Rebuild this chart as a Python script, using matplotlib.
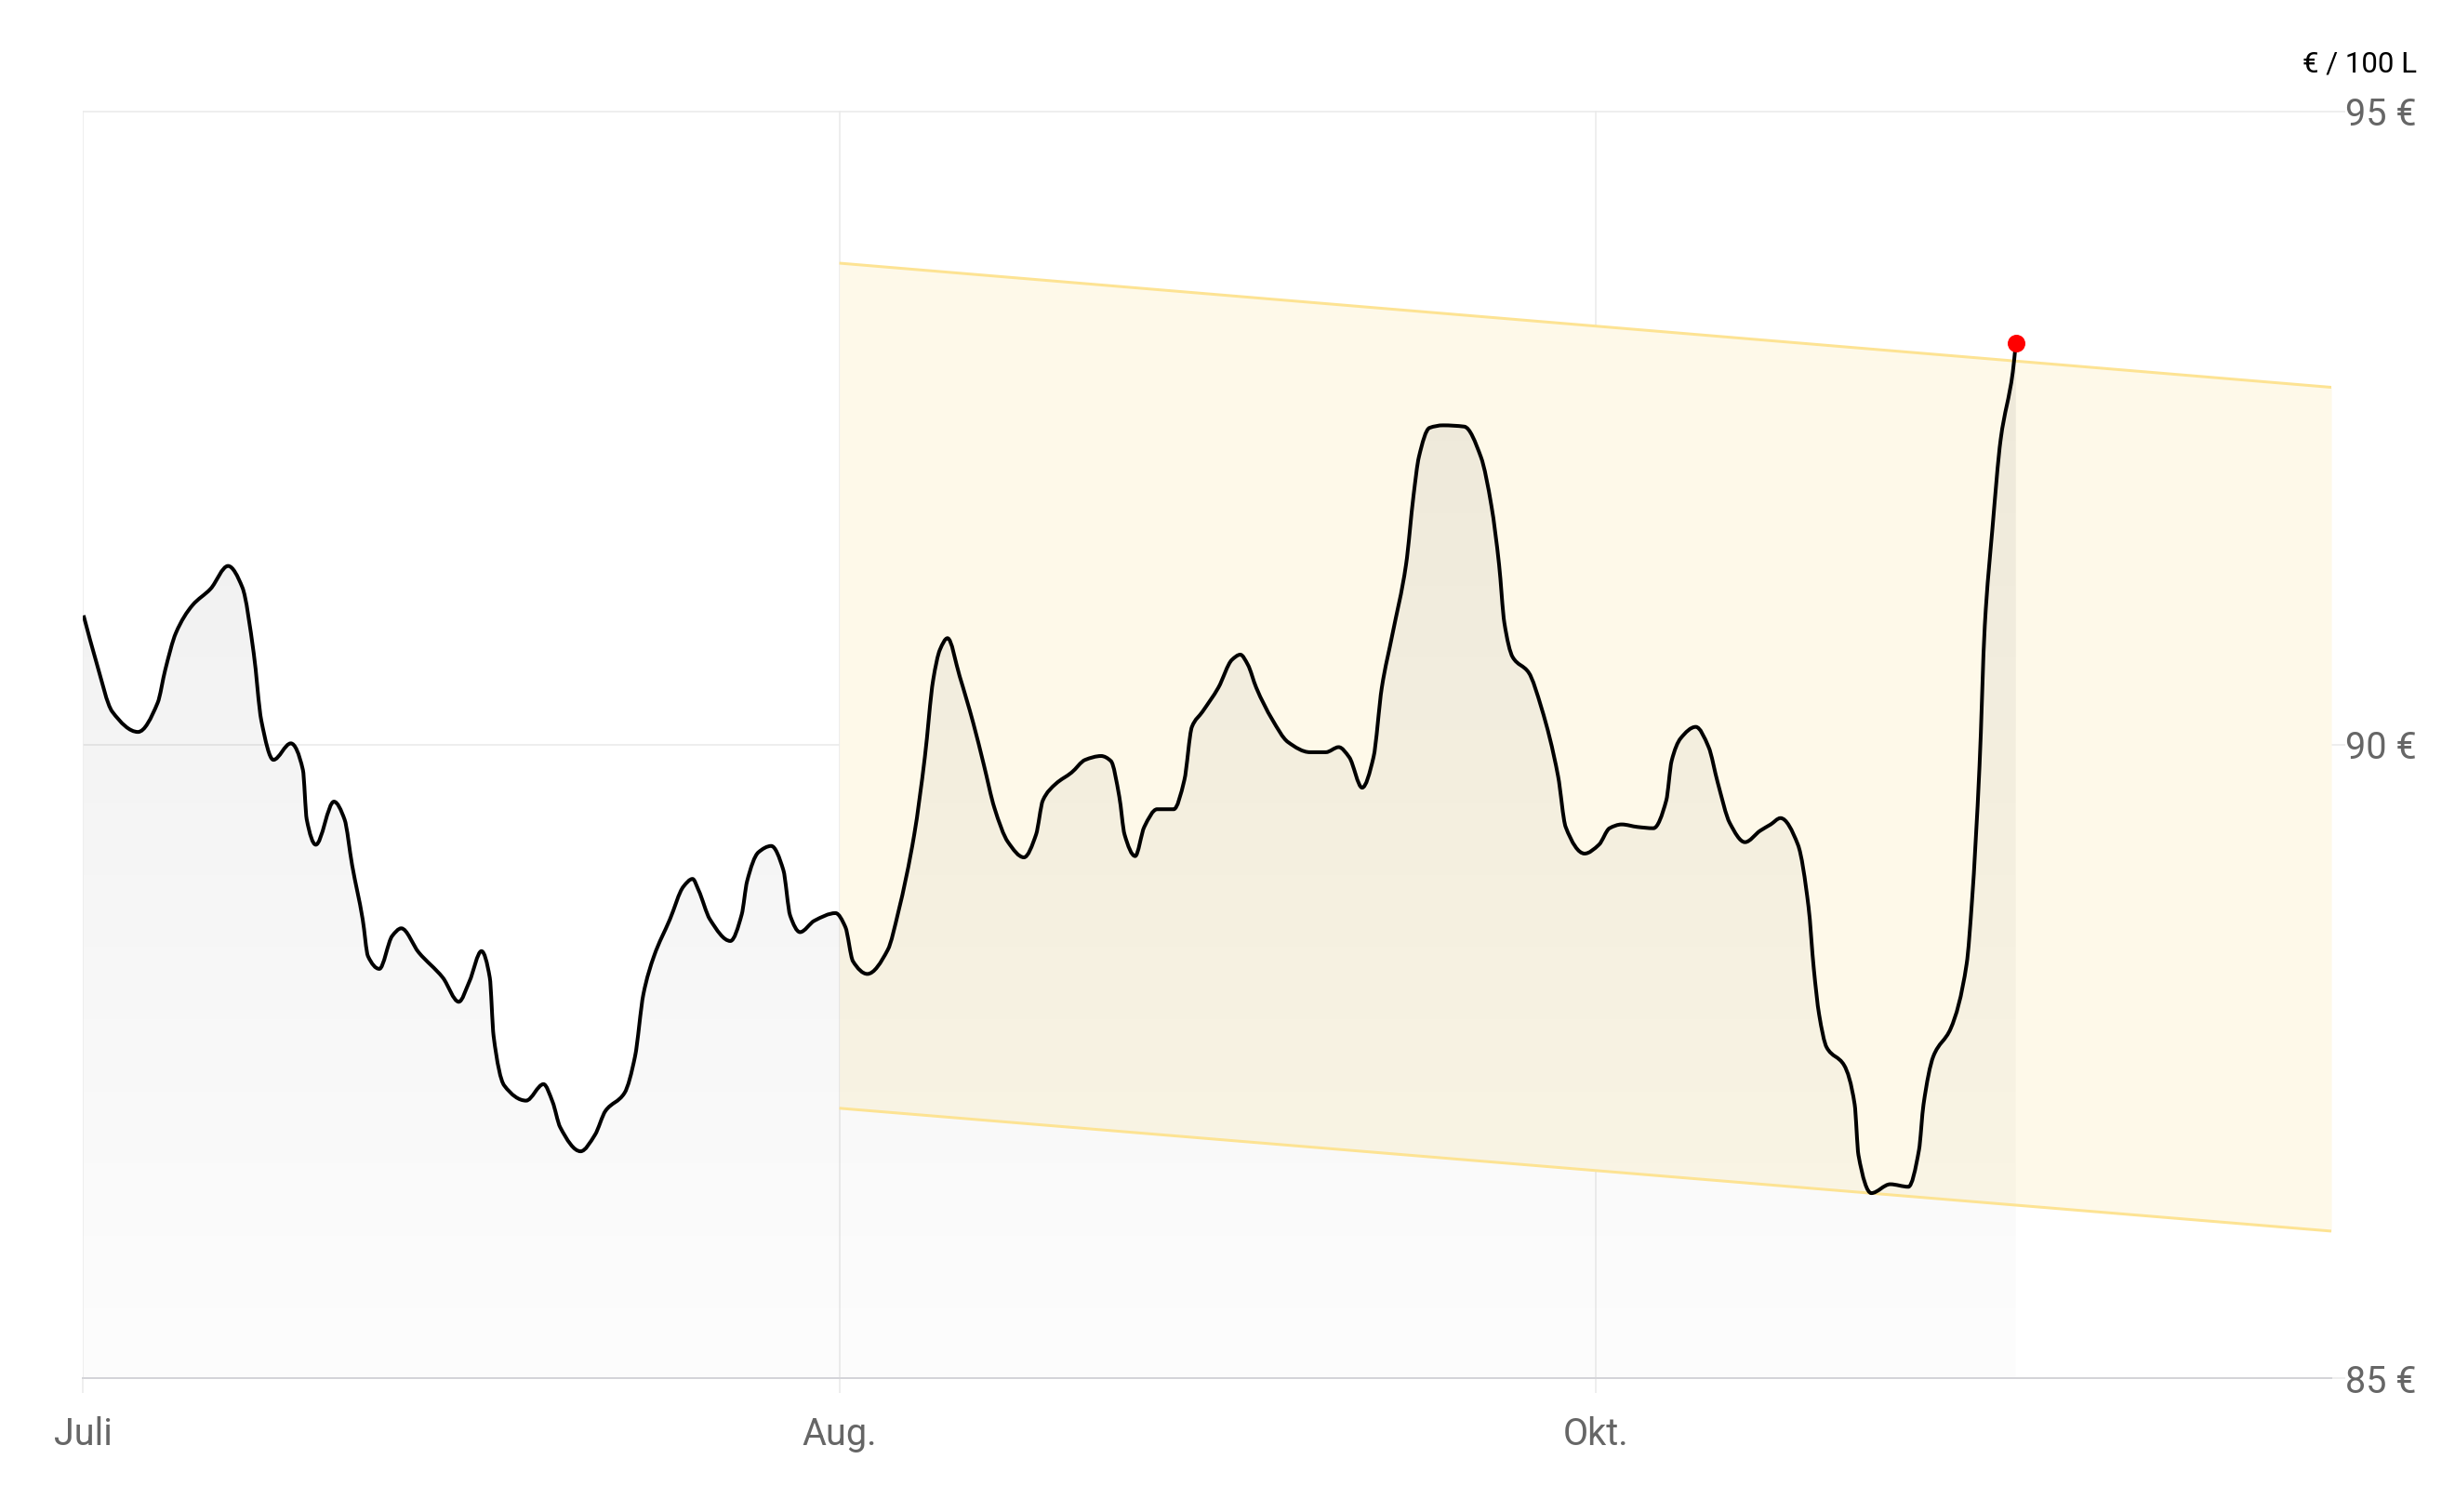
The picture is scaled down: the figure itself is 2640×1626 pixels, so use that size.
import numpy as np
import matplotlib
matplotlib.use("Agg")
import matplotlib.pyplot as plt
from matplotlib.path import Path
from matplotlib.patches import PathPatch

plt.rcParams['font.family'] = ['Roboto', 'DejaVu Sans']

# ---- data ----
tick_pos = [0, 1, 2]
tick_labels = ["Juli", "Aug.", "Okt."]
y_ticks = [85, 90, 95]
y_tick_labels = ["85 €", "90 €", "95 €"]
unit_label = "€ / 100 L"

x_pos = [0.001, 0.018, 0.039, 0.073, 0.099, 0.109, 0.123, 0.145, 0.169, 0.192,
         0.211, 0.226, 0.236, 0.252, 0.275, 0.291, 0.296, 0.308, 0.332, 0.346,
         0.356, 0.370, 0.377, 0.392, 0.409, 0.421, 0.444, 0.476, 0.497, 0.511,
         0.527, 0.538, 0.543, 0.557, 0.586, 0.609, 0.621, 0.631, 0.658, 0.677,
         0.691, 0.716, 0.730, 0.741, 0.755, 0.776, 0.794, 0.806, 0.814, 0.829,
         0.856, 0.871, 0.878, 0.893, 0.910, 0.926, 0.935, 0.948, 0.967, 0.995,
         1.008, 1.018, 1.037, 1.064, 1.078, 1.099, 1.113, 1.124, 1.133, 1.143,
         1.159, 1.177, 1.191, 1.205, 1.223, 1.244, 1.260, 1.269, 1.286, 1.307,
         1.325, 1.346, 1.359, 1.370, 1.377, 1.391, 1.403, 1.420, 1.442, 1.456,
         1.466, 1.480, 1.501, 1.519, 1.530, 1.540, 1.551, 1.572, 1.593, 1.622,
         1.643, 1.660, 1.674, 1.691, 1.706, 1.717, 1.731, 1.749, 1.759, 1.766,
         1.780, 1.798, 1.826, 1.848, 1.862, 1.872, 1.879, 1.890, 1.911, 1.928,
         1.950, 1.960, 1.985, 2.004, 2.018, 2.034, 2.055, 2.076, 2.093, 2.100,
         2.112, 2.132, 2.149, 2.161, 2.177, 2.197, 2.217, 2.231, 2.244, 2.267,
         2.281, 2.288, 2.295, 2.305, 2.328, 2.342, 2.347, 2.364, 2.389, 2.413,
         2.427, 2.433, 2.446, 2.469, 2.490, 2.497, 2.507, 2.514, 2.524, 2.535,
         2.551, 2.555]
price = [91.02, 90.65, 90.26, 90.10, 90.33, 90.59, 90.88, 91.10, 91.23, 91.41,
         91.24, 90.72, 90.19, 89.88, 90.01, 89.80, 89.41, 89.21, 89.55, 89.41,
         89.05, 88.62, 88.33, 88.23, 88.49, 88.55, 88.36, 88.16, 87.97, 88.13,
         88.37, 88.16, 87.70, 87.31, 87.19, 87.32, 87.18, 86.98, 86.79, 86.92,
         87.11, 87.25, 87.54, 88.03, 88.33, 88.62, 88.88, 88.94, 88.85, 88.62,
         88.45, 88.66, 88.92, 89.15, 89.20, 89.01, 88.65, 88.52, 88.61, 88.67,
         88.56, 88.29, 88.19, 88.38, 88.68, 89.29, 89.90, 90.51, 90.75, 90.84,
         90.54, 90.17, 89.84, 89.50, 89.23, 89.11, 89.29, 89.56, 89.69, 89.78,
         89.88, 89.91, 89.87, 89.59, 89.29, 89.12, 89.35, 89.49, 89.49, 89.72,
         90.14, 90.26, 90.45, 90.67, 90.71, 90.63, 90.45, 90.20, 90.02, 89.94,
         89.94, 89.98, 89.90, 89.66, 89.90, 90.45, 90.87, 91.42, 91.97, 92.27,
         92.50, 92.52, 92.51, 92.27, 91.88, 91.42, 90.96, 90.69, 90.57, 90.29,
         89.75, 89.35, 89.14, 89.21, 89.34, 89.37, 89.35, 89.34, 89.56, 89.87,
         90.05, 90.14, 89.98, 89.70, 89.38, 89.23, 89.32, 89.37, 89.42, 89.21,
         88.72, 88.23, 87.87, 87.61, 87.47, 87.16, 86.76, 86.46, 86.53, 86.51,
         86.80, 87.16, 87.54, 87.76, 88.27, 88.76, 89.83, 90.94, 91.70, 92.41,
         92.94, 93.17]

band_x = [1.0, 2.972]
band_upper = [93.80, 92.82]
band_lower = [87.13, 86.16]


def monotone_bezier(xs, ys):
    """Monotone cubic (Fritsch-Carlson) drawn as Bezier segments through the data points."""
    xs = np.asarray(xs, float)
    ys = np.asarray(ys, float)
    h = np.diff(xs)
    d = np.diff(ys) / h
    n = len(xs)
    m = np.zeros(n)
    m[0], m[-1] = d[0], d[-1]
    for i in range(1, n - 1):
        if d[i - 1] * d[i] <= 0:
            m[i] = 0.0
        else:
            w1 = 2 * h[i] + h[i - 1]
            w2 = h[i] + 2 * h[i - 1]
            m[i] = (w1 + w2) / (w1 / d[i - 1] + w2 / d[i])
    verts = [(xs[0], ys[0])]
    codes = [Path.MOVETO]
    for i in range(n - 1):
        verts += [(xs[i] + h[i] / 3, ys[i] + m[i] * h[i] / 3),
                  (xs[i + 1] - h[i] / 3, ys[i + 1] - m[i + 1] * h[i] / 3),
                  (xs[i + 1], ys[i + 1])]
        codes += [Path.CURVE4] * 3
    return verts, codes


# ---- figure ----
W, H, DPI = 2640, 1626, 100
fig = plt.figure(figsize=(W / DPI, H / DPI), dpi=DPI)
px = 72.0 / DPI  # points per pixel

left_px, right_px, top_px, bot_px = 89, 2507, 119.5, 1482
ax = fig.add_axes([left_px / W, 1 - bot_px / H, (right_px - left_px) / W, (bot_px - top_px) / H])

x = np.array(x_pos)
y = np.array(price)
verts, codes = monotone_bezier(x, y)
line_path = Path(verts, codes)
fill_path = Path(verts + [(x[-1], y_ticks[0]), (x[0], y_ticks[0]), (x[0], y[0])],
                 codes + [Path.LINETO, Path.LINETO, Path.CLOSEPOLY])

# band
ax.fill_between(band_x, band_lower, band_upper, color='#fef9e9', lw=0, zorder=1)

# gradient fill under line
grad = np.zeros((256, 1, 4))
grad[:, 0, 3] = np.linspace(0.012, 0.068, 256)
im = ax.imshow(grad, extent=[x[0], x[-1], y_ticks[0], y.max()], origin='lower',
               aspect='auto', zorder=2, interpolation='bilinear')
im.set_clip_path(fill_path, transform=ax.transData)

# band edges
ax.plot(band_x, band_upper, color='#fde393', lw=3 * px, zorder=3, solid_capstyle='butt')
ax.plot(band_x, band_lower, color='#fde393', lw=3 * px, zorder=3, solid_capstyle='butt')

# line + last point
ax.add_patch(PathPatch(line_path, fill=False, edgecolor='black', lw=4 * px,
                       zorder=4, joinstyle='round', capstyle='butt'))
ax.plot(x[-1:], y[-1:], 'o', color='#ff0000', ms=19 * px, mec='none', zorder=5)

ax.set_xlim(0, band_x[-1])
ax.set_ylim(y_ticks[0], y_ticks[-1])

grid_c = '#ebebeb'
ax.set_xticks(tick_pos)
ax.set_xticklabels(tick_labels)
ax.set_yticks(y_ticks)
ax.set_yticklabels(y_tick_labels)
ax.yaxis.tick_right()
ax.grid(True, color=grid_c, lw=1.6 * px, zorder=0)
ax.set_axisbelow(True)

ax.tick_params(axis='x', length=16 * px, width=1.6 * px, color=grid_c, pad=25 * px,
               labelsize=28.5, labelcolor='#666666')
ax.tick_params(axis='y', length=15 * px, width=1.6 * px, color=grid_c, pad=77 * px,
               labelsize=28.5, labelcolor='#666666')
for lab in ax.get_yticklabels():
    lab.set_horizontalalignment('right')

for s in ['left', 'right', 'top']:
    ax.spines[s].set_visible(False)
ax.spines['bottom'].set_color('#d4d4d8')
ax.spines['bottom'].set_linewidth(2 * px)
ax.spines['bottom'].set_zorder(6)

fig.text(2599 / W, 1 - 78 / H, unit_label, ha='right', va='baseline', fontsize=22.5, color='black')

fig.savefig('out.png', dpi=DPI, facecolor='white')
